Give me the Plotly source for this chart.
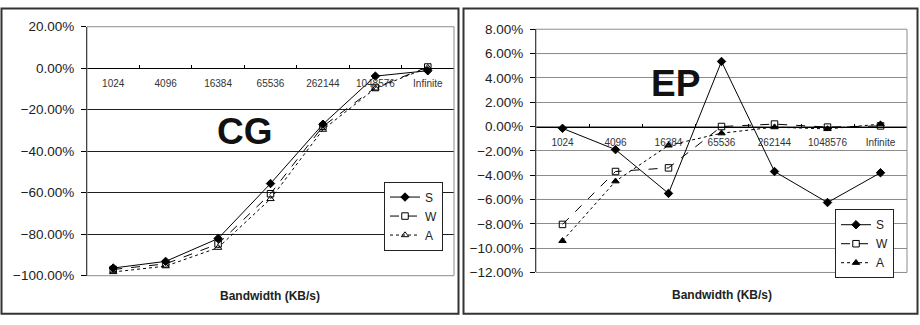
import plotly.graph_objects as go

# Bandwidth settings (category axis)
bandwidths = ["1024", "4096", "16384", "65536", "262144", "1048576", "Infinite"]

# CG: relative change (%) per scheme
cg_s = [-96.3, -93.1, -82.1, -55.6, -27.0, -3.8, -1.2]
cg_w = [-97.0, -94.3, -84.7, -60.5, -28.0, -9.3, 0.6]
cg_a = [-98.2, -95.4, -86.5, -63.0, -29.6, -9.7, 0.3]

# EP: relative change (%) per scheme
ep_s = [-0.15, -1.9, -5.5, 5.35, -3.7, -6.25, -3.8]
ep_w = [-8.05, -3.7, -3.4, 0.0, 0.2, -0.05, 0.05]
ep_a = [-9.4, -4.5, -1.55, -0.55, -0.05, -0.2, 0.2]

W, H = 920, 325
FONT = "Liberation Sans, Arial, sans-serif"


def px_x(p):
    return p / W


def px_y(p):
    return (H - p) / H


fig = go.Figure()

series_style = {
    "S": dict(dash="solid", symbol="diamond"),
    "W": dict(dash="dash", symbol="square-open"),
    "A": dict(dash="dot", symbol="triangle-up-open"),
}


def add_series(name, values, xa, ya, legend, symbol=None):
    st = series_style[name]
    fig.add_trace(go.Scatter(
        x=bandwidths, y=values, name=name, mode="lines+markers",
        xaxis=xa, yaxis=ya, legend=legend,
        line=dict(color="black", width=1, dash=st["dash"]),
        marker=dict(symbol=symbol or st["symbol"], size=6.5, color="black",
                    line=dict(color="black", width=1)),
    ))


add_series("S", cg_s, "x", "y", "legend")
add_series("W", cg_w, "x", "y", "legend")
add_series("A", cg_a, "x", "y", "legend")
add_series("S", ep_s, "x2", "y2", "legend2")
add_series("W", ep_w, "x2", "y2", "legend2")
add_series("A", ep_a, "x2", "y2", "legend2", symbol="triangle-up")

# plot areas in pixels
cg_box = dict(l=87, r=454, t=20.7, b=281.7)
ep_box = dict(l=536, r=907, t=23.3, b=278.3)
cg_range = [-100, 20]
ep_range = [-12, 8]


def zero_pos(box, rng):
    b, t = px_y(box["b"]), px_y(box["t"])
    return b + (0 - rng[0]) / (rng[1] - rng[0]) * (t - b)


yaxis_common = dict(
    showline=True, linecolor="black", linewidth=1,
    ticks="outside", ticklen=5, tickcolor="black", tickwidth=1,
    ticksuffix="%", tickformat=".2f",
    tickfont=dict(family=FONT, size=13.5, color="#222"),
    showgrid=True, gridwidth=1, zeroline=False, ticklabelstandoff=4,
)
xaxis_common = dict(
    type="category", range=[-0.5, 6.5], tickson="boundaries",
    showline=True, linecolor="black", linewidth=1,
    ticks="inside", ticklen=3, tickcolor="black",
    tickfont=dict(family=FONT, size=10, color="#333"),
    showgrid=False, zeroline=False, anchor="free", ticklabelstandoff=6,
)

legend_common = dict(
    xanchor="right", yanchor="top", bgcolor="white",
    bordercolor="#222", borderwidth=1,
    font=dict(family=FONT, size=12, color="#222"), tracegroupgap=0,
)

fig.update_layout(
    width=W, height=H, margin=dict(l=0, r=0, t=0, b=0),
    paper_bgcolor="white", plot_bgcolor="white",
    xaxis=dict(xaxis_common, domain=[px_x(cg_box["l"]), px_x(cg_box["r"])],
               position=zero_pos(cg_box, cg_range)),
    yaxis=dict(yaxis_common, domain=[px_y(cg_box["b"]), px_y(cg_box["t"])],
               range=cg_range, dtick=20, gridcolor="#1e1e1e", anchor="x"),
    xaxis2=dict(xaxis_common, domain=[px_x(ep_box["l"]), px_x(ep_box["r"])],
                position=zero_pos(ep_box, ep_range)),
    yaxis2=dict(yaxis_common, domain=[px_y(ep_box["b"]), px_y(ep_box["t"])],
                range=ep_range, dtick=2, gridcolor="#8c8c8c", anchor="x2"),
    legend=dict(legend_common, x=px_x(443), y=px_y(183)),
    legend2=dict(legend_common, x=px_x(894), y=px_y(212)),
    showlegend=True,
)

shapes = []
# plot area frames
for xr, yr in (("x", "y"), ("x2", "y2")):
    shapes.append(dict(type="rect", xref=f"{xr} domain", yref=f"{yr} domain",
                       x0=0, x1=1, y0=0, y1=1, line=dict(color="#8c8c8c", width=1),
                       layer="above"))
# darker grid lines in the EP panel
for v in (6, -6):
    shapes.append(dict(type="line", xref="x2 domain", yref="y2", x0=0, x1=1,
                       y0=v, y1=v, line=dict(color="#1e1e1e", width=1), layer="below"))
# outer chart frames
shapes.append(dict(type="rect", xref="paper", yref="paper",
                   x0=px_x(1.5), x1=px_x(458.5), y0=px_y(321.5), y1=px_y(1.5),
                   line=dict(color="#333", width=2)))
shapes.append(dict(type="rect", xref="paper", yref="paper",
                   x0=px_x(463.5), x1=px_x(917.5), y0=px_y(321.5), y1=px_y(1.5),
                   line=dict(color="#333", width=2)))
fig.update_layout(shapes=shapes)

label = dict(xref="paper", yref="paper", showarrow=False,
             xanchor="center", yanchor="middle")
annotations = [
    dict(label, text="<b>CG</b>", x=px_x(245), y=px_y(131),
         font=dict(family=FONT, size=37, color="#111")),
    dict(label, text="<b>EP</b>", x=px_x(675), y=px_y(80),
         font=dict(family=FONT, size=37, color="#111")),
    dict(label, text="<b>Bandwidth (KB/s)</b>", x=px_x(270), y=px_y(303),
         font=dict(family=FONT, size=12, color="#222")),
    dict(label, text="<b>Bandwidth (KB/s)</b>", x=px_x(722), y=px_y(302),
         font=dict(family=FONT, size=12, color="#222")),
]
fig.update_layout(annotations=annotations)

fig.write_html("out.html")
